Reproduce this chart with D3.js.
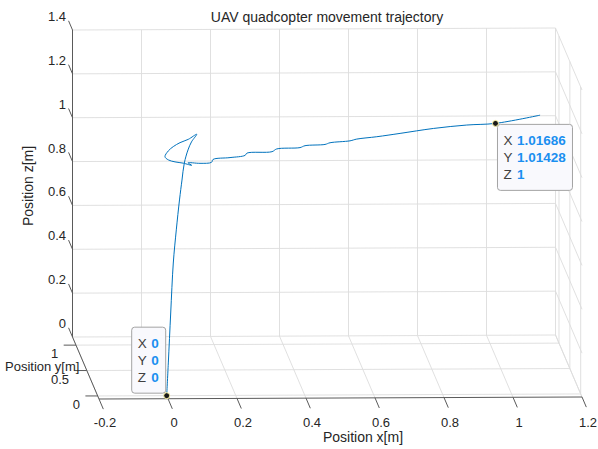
<!DOCTYPE html>
<html>
<head>
<meta charset="utf-8">
<script src="https://cdn.jsdelivr.net/npm/d3@7"></script>
<style>
  html, body { margin: 0; padding: 0; background: #fff; }
  svg { display: block; font-family: "Liberation Sans", Arial, Helvetica, sans-serif; }
</style>
</head>
<body>
<svg id="chart" width="598" height="449"></svg>
<script>
// ---- axis ticks ----
const xTicks = [-0.2, 0, 0.2, 0.4, 0.6, 0.8, 1, 1.2];
const xTickLabels = ["-0.2", "0", "0.2", "0.4", "0.6", "0.8", "1", "1.2"];
const yTicks = [0, 0.5, 1];
const yTickLabels = ["0", "0.5", "1"];
const zTicks = [0, 0.2, 0.4, 0.6, 0.8, 1, 1.2, 1.4];
const zTickLabels = ["0", "0.2", "0.4", "0.6", "0.8", "1", "1.2", "1.4"];

// ---- flight trajectory (take-off, overshoot loop, cruise at ~1 m) ----
const trajX = [0, 0.0050, 0.0124, 0.0204, 0.0297, 0.0396, 0.0473, 0.0545, 0.0659, 0.0767, 0.0928,
  0.0668, 0.0412, 0.0204, 0.0050, -0.0053, 0.0050, 0.0257, 0.0514, 0.0774, 0.0659,
  0.103, 0.1386, 0.1433, 0.1959, 0.2423, 0.2485, 0.3258, 0.3403, 0.4124, 0.4279, 0.4898,
  0.5053, 0.5671, 0.5879, 0.6498, 0.7219, 0.8249, 0.9282, 1.01686, 1.155];
const trajY = [0, 0.0050, 0.0124, 0.0204, 0.0297, 0.0396, 0.0473, 0.0545, 0.0659, 0.0767, 0.0928,
  0.0668, 0.0412, 0.0204, 0.0050, -0.0053, 0.0050, 0.0257, 0.0514, 0.0774, 0.0659,
  0.103, 0.1386, 0.1433, 0.1959, 0.2423, 0.2485, 0.3258, 0.3403, 0.4124, 0.4279, 0.4898,
  0.5053, 0.5671, 0.5879, 0.6498, 0.7219, 0.8249, 0.9282, 1.01428, 1.155];
const trajZ = [0, 0.148, 0.374, 0.600, 0.749, 0.883, 0.972, 1.048, 1.105, 1.139, 1.170,
  1.153, 1.144, 1.131, 1.115, 1.091, 1.074, 1.060, 1.048, 1.032, 1.046,
  1.035, 1.031, 1.043, 1.039, 1.038, 1.047, 1.035, 1.044, 1.033, 1.038, 1.029,
  1.033, 1.027, 1.030, 1.026, 1.024, 1.022, 1.013, 1, 1.004];

// ---- data tips ----
const tipX = [1.01686, 0];
const tipY = [1.01428, 0];
const tipZ = [1, 0];
const tipLabels = [["1.01686", "1.01428", "1"], ["0", "0", "0"]];

// ---- oblique view of the 3-D box ----
const xDom = [-0.2, 1.2], yDom = [-0.06, 1.16], zDom = [0, 1.4];
const xPx = d3.scaleLinear().domain(xDom).range([0, 483]);
const xTilt = d3.scaleLinear().domain(xDom).range([0, -2]);
const yPxX = d3.scaleLinear().domain(yDom).range([26.5, 0]);
const yPxY = d3.scaleLinear().domain(yDom).range([62, 0]);
const zPx = d3.scaleLinear().domain(zDom).range([0, -307]);
const O = [72.5, 337];
function proj(x, y, z) {
  return [O[0] + xPx(x) + yPxX(y), O[1] + xTilt(x) + yPxY(y) + zPx(z)];
}

const svg = d3.select("#chart");
const ink = "#262626";
const gridCol = "#dcdcdc";
const seg = d3.line();

function drawSeg(g, a, b, stroke, w) {
  g.append("path").attr("d", seg([proj(...a), proj(...b)]))
    .attr("fill", "none").attr("stroke", stroke).attr("stroke-width", w);
}

const [x0, x1] = xDom, [y0, y1] = yDom, [z0, z1] = zDom;

// grid on the back wall, floor and right wall
const grid = svg.append("g");
xTicks.forEach(x => {
  drawSeg(grid, [x, y1, z0], [x, y1, z1], gridCol, 0.9);
  drawSeg(grid, [x, y0, z0], [x, y1, z0], gridCol, 0.9);
});
zTicks.forEach(z => {
  drawSeg(grid, [x0, y1, z], [x1, y1, z], gridCol, 0.9);
  drawSeg(grid, [x1, y0, z], [x1, y1, z], gridCol, 0.9);
});
yTicks.forEach(y => {
  drawSeg(grid, [x0, y, z0], [x1, y, z0], gridCol, 0.9);
  drawSeg(grid, [x1, y, z0], [x1, y, z1], gridCol, 0.9);
});

// axis lines
const axes = svg.append("g");
const axCol = "#5a5a5a";
drawSeg(axes, [x0, y1, z0], [x0, y1, z1], axCol, 1);
drawSeg(axes, [x0, y0, z0], [x1, y0, z0], axCol, 1);
drawSeg(axes, [x0, y0, z0], [x0, y1, z0], axCol, 1);

// tick direction along the depth axis
const dvx = yPxX(y0) - yPxX(y1), dvy = yPxY(y0) - yPxY(y1);
const dl = Math.hypot(dvx, dvy);
const ux = dvx / dl, uy = dvy / dl;
const tickFont = 13;

// z ticks
zTicks.forEach((z, i) => {
  const p = proj(x0, y1, z);
  axes.append("line").attr("x1", p[0]).attr("y1", p[1])
    .attr("x2", p[0] - ux * 10).attr("y2", p[1] - uy * 10)
    .attr("stroke", axCol).attr("stroke-width", 1);
  axes.append("text").attr("x", p[0] - 6.5).attr("y", p[1] - 9)
    .attr("text-anchor", "end").attr("font-size", tickFont).attr("fill", ink)
    .text(zTickLabels[i]);
});

// x ticks
xTicks.forEach((x, i) => {
  const p = proj(x, y0, z0);
  axes.append("line").attr("x1", p[0]).attr("y1", p[1])
    .attr("x2", p[0] + ux * 11).attr("y2", p[1] + uy * 11)
    .attr("stroke", axCol).attr("stroke-width", 1);
  axes.append("text").attr("x", p[0] + 6).attr("y", 427)
    .attr("text-anchor", "middle").attr("font-size", tickFont).attr("fill", ink)
    .text(xTickLabels[i]);
});

// y ticks
yTicks.forEach((y, i) => {
  const p = proj(x0, y, z0);
  axes.append("line").attr("x1", p[0]).attr("y1", p[1])
    .attr("x2", p[0] - 12.3).attr("y2", p[1])
    .attr("stroke", axCol).attr("stroke-width", 1);
  axes.append("text").attr("x", p[0] - 12.3 - 5.5).attr("y", p[1] + 13)
    .attr("text-anchor", "end").attr("font-size", tickFont).attr("fill", ink)
    .text(yTickLabels[i]);
});

// titles
svg.append("text").attr("x", 327).attr("y", 22).attr("text-anchor", "middle")
  .attr("font-size", 14).attr("fill", ink).text("UAV quadcopter movement trajectory");
svg.append("text").attr("x", 363).attr("y", 442).attr("text-anchor", "middle")
  .attr("font-size", 14).attr("fill", ink).text("Position x[m]");
svg.append("text").attr("x", 5).attr("y", 371).attr("text-anchor", "start")
  .attr("font-size", 13).attr("fill", ink).text("Position y[m]");
svg.append("text").attr("transform", "translate(33,186) rotate(-90)")
  .attr("text-anchor", "middle").attr("font-size", 14).attr("fill", ink).text("Position z[m]");

// trajectory
const pts = trajX.map((x, i) => proj(x, trajY[i], trajZ[i]));
svg.append("path")
  .attr("d", d3.line().curve(d3.curveCatmullRom.alpha(0.5))(pts))
  .attr("fill", "none").attr("stroke", "#0072BD").attr("stroke-width", 1);

// data tips
const tipG = svg.append("g");
tipX.forEach((x, i) => {
  const m = proj(x, tipY[i], tipZ[i]);
  const g = tipG.append("g");
  const box = g.append("rect").attr("rx", 3).attr("ry", 3)
    .attr("fill", "#f9f9fd").attr("stroke", "#a3a3a3").attr("stroke-width", 1);
  const names = ["X", "Y", "Z"];
  let maxW = 0;
  names.forEach((n, k) => {
    g.append("text").attr("x", 6.5).attr("y", 21.5 + k * 17)
      .attr("font-size", 13.5).attr("fill", "#404040").text(n);
    const t = g.append("text").attr("x", 20).attr("y", 21.5 + k * 17)
      .attr("font-size", 13.5).attr("font-weight", "bold").attr("fill", "#1a8ff0")
      .text(tipLabels[i][k]);
    maxW = Math.max(maxW, t.node().getComputedTextLength());
  });
  const w = Math.round(20 + maxW + 6), h = 66;
  box.attr("x", 0.5).attr("y", 0.5).attr("width", w).attr("height", h);
  const bx = i === 0 ? m[0] + 1.5 : m[0] - w - 1.5;
  const by = i === 0 ? m[1] + 0.5 : m[1] - h - 3;
  g.attr("transform", `translate(${bx},${by})`);
  tipG.append("circle").attr("cx", m[0]).attr("cy", m[1]).attr("r", 3)
    .attr("fill", "#1a1a1a").attr("stroke", "#fff7a8").attr("stroke-width", 1);
});
</script>
</body>
</html>
